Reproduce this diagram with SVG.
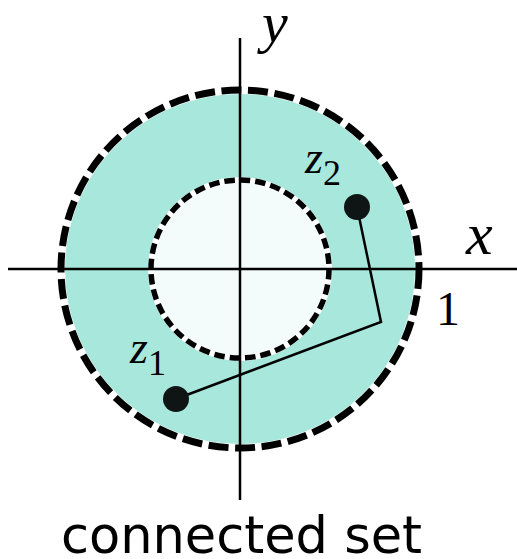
<svg xmlns="http://www.w3.org/2000/svg" width="517" height="559" viewBox="0 0 517 559">
<style>
.m{font-family:"Liberation Serif","DejaVu Serif",serif;font-style:italic;fill:#000}
.n{font-family:"Liberation Serif","DejaVu Serif",serif;fill:#000}
.ax{stroke:#000;stroke-width:2.5;fill:none}
.dot{fill:#0f1515}
</style>
<rect width="517" height="559" fill="#fff"/>
<g id="annulus">
<circle cx="240" cy="269" r="179" fill="#a8e7db"/>
<circle cx="240" cy="269" r="89" fill="#f4fbfb"/>
<circle cx="240" cy="269" r="179" fill="none" stroke="#fff" stroke-width="8"/>
<circle cx="240" cy="269" r="179" fill="none" stroke="#000" stroke-width="7" stroke-dasharray="20 6.6"/>
<circle cx="240" cy="269" r="89" fill="none" stroke="#fff" stroke-width="6"/>
<circle cx="240" cy="269" r="89" fill="none" stroke="#000" stroke-width="5.5" stroke-dasharray="10.5 5"/>
</g>
<g id="axes">
<line class="ax" x1="8" y1="269" x2="517" y2="269"/>
<line class="ax" x1="240" y1="38" x2="240" y2="500"/>
</g>
<g id="connectors">
<polyline points="176,399 381,322 357,207" fill="none" stroke="#000" stroke-width="2.5"/>
</g>
<g id="z1"><circle class="dot" cx="176" cy="399" r="13"/><text class="m" x="130" y="363" font-size="46">z<tspan class="n" font-style="normal" font-size="36" dy="12">1</tspan></text></g>
<g id="z2"><circle class="dot" cx="357" cy="207" r="13"/><text class="m" x="305" y="173" font-size="46">z<tspan class="n" font-style="normal" font-size="36" dy="12">2</tspan></text></g>
<text class="m" x="262" y="42" font-size="58">y</text>
<text class="m" x="466" y="254" font-size="60">x</text>
<text class="n" x="436" y="325" font-size="48">1</text>
<text x="241.5" y="553" font-family="'DejaVu Sans',sans-serif" font-size="51" text-anchor="middle">connected set</text>
</svg>
